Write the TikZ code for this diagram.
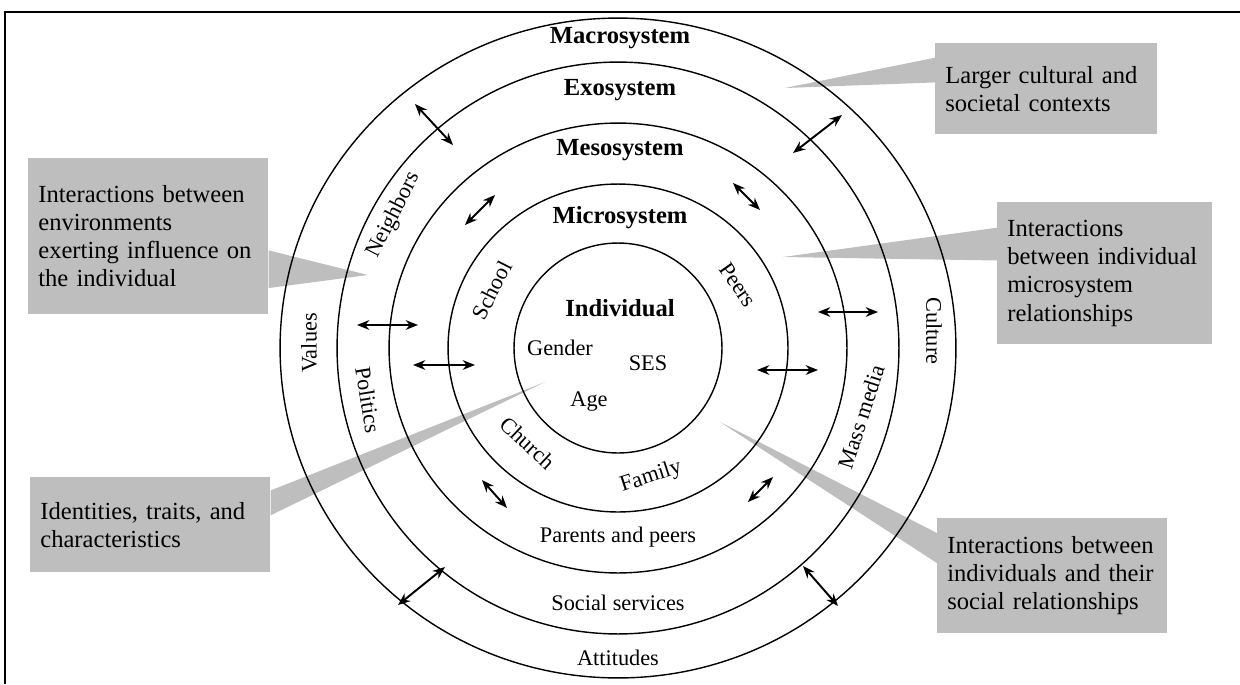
\documentclass[tikz,border=0pt]{standalone}
\usepackage{fontspec}
\setmainfont{Liberation Serif}
\usetikzlibrary{arrows.meta,calc}

\definecolor{calloutgray}{RGB}{190,190,190}

\tikzset{
  ring/.style={draw, line width=0.8pt},
  sysname/.style={font=\fontsize{14}{16}\selectfont\bfseries},
  ringtext/.style={font=\fontsize{12.7}{15}\selectfont},
  calloutbox/.style={fill=calloutgray, anchor=north west, align=left,
    inner xsep=0.2cm, inner ysep=0pt, text width=#1,
    font=\fontsize{14}{16}\selectfont},
  link/.style={{Stealth[length=7pt,width=5.5pt]}-{Stealth[length=7pt,width=5.5pt]},
    line width=1.1pt},
}

\begin{document}
\begin{tikzpicture}[x=0.02cm, y=-0.02cm]
    \useasboundingbox (0,0) rectangle (1240,684);

    % frame
    \draw[line width=1.1pt] (5,684) -- (5,12) -- (1240,12);

    % callout boxes
    \node[calloutbox=4.04cm, minimum height=1.82cm] (ctx) at (935,43)
      {Larger cultural and\\societal contexts};
    \node[calloutbox=4.4cm, minimum height=3.12cm] (envs) at (28,158)
      {Interactions between\\environments\\exerting influence on\\the individual};
    \node[calloutbox=3.9cm, minimum height=2.84cm] (micro rel) at (997,202)
      {Interactions\\between individual\\microsystem\\relationships};
    \node[calloutbox=4.4cm, minimum height=1.9cm] (traits) at (30,477)
      {Identities, traits, and\\characteristics};
    \node[calloutbox=4.2cm, minimum height=2.3cm] (social rel) at (937,518)
      {Interactions between\\individuals and their\\social relationships};

    % pointer tips
    \coordinate (ctx tip) at (785,88);
    \coordinate (envs tip) at (368,275);
    \coordinate (micro rel tip) at (783,257);
    \coordinate (traits tip) at (545,382);
    \coordinate (social rel tip) at (720,422);

    \fill[calloutgray] (ctx tip) -- ($(ctx.north west)!0.16!(ctx.south west)$)
      -- ($(ctx.north west)!0.43!(ctx.south west)$) -- cycle;
    \fill[calloutgray] (envs tip) -- ($(envs.north east)!0.59!(envs.south east)$)
      -- ($(envs.north east)!0.83!(envs.south east)$) -- cycle;
    \fill[calloutgray] (micro rel tip) -- ($(micro rel.north west)!0.18!(micro rel.south west)$)
      -- ($(micro rel.north west)!0.41!(micro rel.south west)$) -- cycle;
    \fill[calloutgray] (traits tip) -- ($(traits.north east)!0.14!(traits.south east)$)
      -- ($(traits.north east)!0.40!(traits.south east)$) -- cycle;
    \fill[calloutgray] (social rel tip) -- ($(social rel.north west)!0.13!(social rel.south west)$)
      -- ($(social rel.north west)!0.39!(social rel.south west)$) -- cycle;

    % rings
    \coordinate (ctr) at (618,348);
    \draw[ring] (ctr) ellipse [x radius=2.08cm, y radius=2.1cm];
    \draw[ring] (ctr) ellipse [x radius=3.4cm, y radius=3.28cm];
    \draw[ring] (ctr) ellipse [x radius=4.58cm, y radius=4.5cm];
    \draw[ring] (ctr) ellipse [x radius=5.62cm, y radius=5.72cm];
    \draw[ring] (ctr) ellipse [x radius=6.76cm, y radius=6.6cm];

    % system names
    \node[sysname] (macro) at (620,38) {Macrosystem};
    \node[sysname] (exo) at (620,90) {Exosystem};
    \node[sysname] (meso) at (620,150) {Mesosystem};
    \node[sysname] (micro) at (620,218) {Microsystem};
    \node[sysname] (indiv) at (620,308) {Individual};

    % individual
    \node[ringtext] (gender) at (560,348) {Gender};
    \node[ringtext] (ses) at (648,363) {SES};
    \node[ringtext] (age) at (589,402) {Age};

    % microsystem
    \node[ringtext, rotate=63] (school) at (492,290) {School};
    \node[ringtext, rotate=-55] (peers) at (738,285) {Peers};
    \node[ringtext, rotate=-43] (church) at (528,443) {Church};
    \node[ringtext, rotate=18] (family) at (651,477) {Family};

    % mesosystem
    \node[ringtext] (parents) at (618,537) {Parents and peers};

    % exosystem
    \node[ringtext, rotate=63] (neighbors) at (394,215) {Neighbors};
    \node[ringtext, rotate=-81] (politics) at (368,400) {Politics};
    \node[ringtext, rotate=72] (media) at (861,417) {Mass media};
    \node[ringtext] (services) at (618,603) {Social services};

    % macrosystem
    \node[ringtext, rotate=90] (values) at (309,343) {Values};
    \node[ringtext, rotate=-90] (culture) at (934,331) {Culture};
    \node[ringtext] (attitudes) at (618,658) {Attitudes};

    % two-way arrows
    \foreach \n/\xa/\ya/\xb/\yb in {ul/415/104/453/145, ur/842/115/793/153,
        mul/495/195/465/225, mur/733/183/760/210,
        lh/357/325/418/325, lm/413/365/475/365,
        rh/818/312/878/312, rm/757/370/818/370,
        mll/482/480/507/508, mlr/773/477/748/502,
        bl/445/567/398/605, br/803/566/838/606} {
      \coordinate (\n-a) at (\xa,\ya);
      \coordinate (\n-b) at (\xb,\yb);
      \draw[link] (\n-a) -- (\n-b);
    }

\end{tikzpicture}
\end{document}
